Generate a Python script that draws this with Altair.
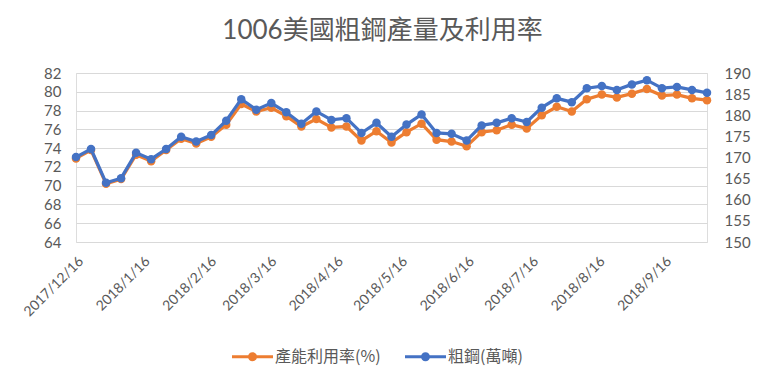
import altair as alt
import pandas as pd

dates = [
    "2017-12-16", "2017-12-23", "2017-12-30",
    "2018-01-06", "2018-01-13", "2018-01-20", "2018-01-27",
    "2018-02-03", "2018-02-10", "2018-02-17", "2018-02-24",
    "2018-03-03", "2018-03-10", "2018-03-17", "2018-03-24", "2018-03-31",
    "2018-04-07", "2018-04-14", "2018-04-21", "2018-04-28",
    "2018-05-05", "2018-05-12", "2018-05-19", "2018-05-26",
    "2018-06-02", "2018-06-09", "2018-06-16", "2018-06-23", "2018-06-30",
    "2018-07-07", "2018-07-14", "2018-07-21", "2018-07-28",
    "2018-08-04", "2018-08-11", "2018-08-18", "2018-08-25",
    "2018-09-01", "2018-09-08", "2018-09-15", "2018-09-22", "2018-09-29",
    "2018-10-06",
]
util = [72.9, 73.8, 70.2, 70.7, 73.3, 72.6, 73.8, 75.0, 74.5, 75.2,
        76.5, 78.7, 77.9, 78.3, 77.4, 76.3, 77.1, 76.2, 76.3, 74.8,
        75.8, 74.6, 75.7, 76.6, 74.9, 74.7, 74.2, 75.7, 75.9, 76.5,
        76.1, 77.5, 78.4, 77.9, 79.2, 79.7, 79.4, 79.8, 80.3, 79.6,
        79.7, 79.3, 79.1]
steel = [170.1, 172.0, 164.0, 165.1, 171.1, 169.6, 172.0, 174.9, 173.8, 175.3,
         178.7, 183.8, 181.3, 182.9, 180.7, 178.0, 180.9, 178.9, 179.3, 175.8,
         178.2, 174.9, 177.8, 180.2, 175.8, 175.6, 174.0, 177.6, 178.2, 179.3,
         178.4, 181.8, 184.0, 183.1, 186.4, 186.9, 186.0, 187.3, 188.3, 186.4,
         186.7, 186.0, 185.3]
names = ["產能利用率(%)", "粗鋼(萬噸)"]
colors = ["#ED7D31", "#4472C4"]
left_ticks = [64, 66, 68, 70, 72, 74, 76, 78, 80, 82]
right_ticks = [150, 155, 160, 165, 170, 175, 180, 185, 190]
tick_months = [(2017, 12)] + [(2018, m) for m in range(1, 10)]

df_u = pd.DataFrame({"date": dates, "value": util, "series": names[0]})
df_s = pd.DataFrame({"date": dates, "value": steel, "series": names[1]})

TXT = "#595959"
FONT = "Lato, Noto Sans CJK TC"
CJK = "Noto Sans CJK TC"

x_enc = alt.X(
    "date:T",
    scale=alt.Scale(type="utc", domain=[alt.DateTime(year=2017, month=12, date=16, utc=True),
                                        alt.DateTime(year=2018, month=10, date=6, utc=True)],
                    nice=False),
    axis=alt.Axis(
        values=[alt.DateTime(year=y, month=m, date=16, utc=True) for y, m in tick_months],
        labelExpr="utcFormat(datum.value, '%Y/%-m/%-d')", labelAngle=-45, labelFlush=False,
        labelOverlap=False, labelBound=False, domain=False, ticks=False, grid=False,
        labelFontSize=14, labelColor=TXT, labelFont=FONT, labelPadding=12, title=None,
    ),
)

legend = alt.Legend(
    title=None, orient="none", legendX=156, legendY=263, direction="horizontal", padding=0,
    symbolType="M-1,-0.075 L1,-0.075 L1,0.075 L-1,0.075 Z M-0.22,0 A0.22,0.22 0 1,1 0.22,0 A0.22,0.22 0 1,1 -0.22,0 Z",
    symbolSize=1681, symbolStrokeWidth=0, labelFontSize=16, labelColor=TXT, labelFont=CJK,
    labelOffset=2, columnPadding=24,
)
col_leg = alt.Color("series:N", scale=alt.Scale(domain=names, range=colors), legend=legend)


def series_layer(df, domain, ticks, orient, grid, color, pad):
    y_enc = alt.Y(
        "value:Q",
        scale=alt.Scale(domain=domain, nice=False, zero=False),
        axis=alt.Axis(values=ticks, orient=orient, grid=grid, gridColor="#d9d9d9", gridWidth=1,
                      domain=False, ticks=False, labelPadding=pad, labelFontSize=15,
                      labelColor=TXT, labelFont=FONT, title=None),
    )
    line = alt.Chart(df).mark_line(strokeWidth=3.25, color=color).encode(x=x_enc, y=y_enc)
    pts = alt.Chart(df).mark_circle(size=72, opacity=1).encode(x=x_enc, y=y_enc, color=col_leg)
    return alt.layer(line, pts)


left = series_layer(df_u, [64, 82], left_ticks, "left", True, colors[0], 15)
right = series_layer(df_s, [150, 190], right_ticks, "right", False, colors[1], 17)

chart = alt.layer(left, right).resolve_scale(y="independent").properties(
    width=631, height=169,
    title=alt.TitleParams("1006美國粗鋼產量及利用率", fontSize=26, color=TXT, font=FONT,
                          fontWeight="normal", anchor="middle", offset=22, dx=-9),
    autosize=alt.AutoSizeParams(type="none"),
    padding={"left": 68, "top": 65, "right": 44, "bottom": 125},
).configure_view(stroke=None).configure(background="white")

chart.save("out.html", embed_options={"renderer": "svg", "actions": False})
